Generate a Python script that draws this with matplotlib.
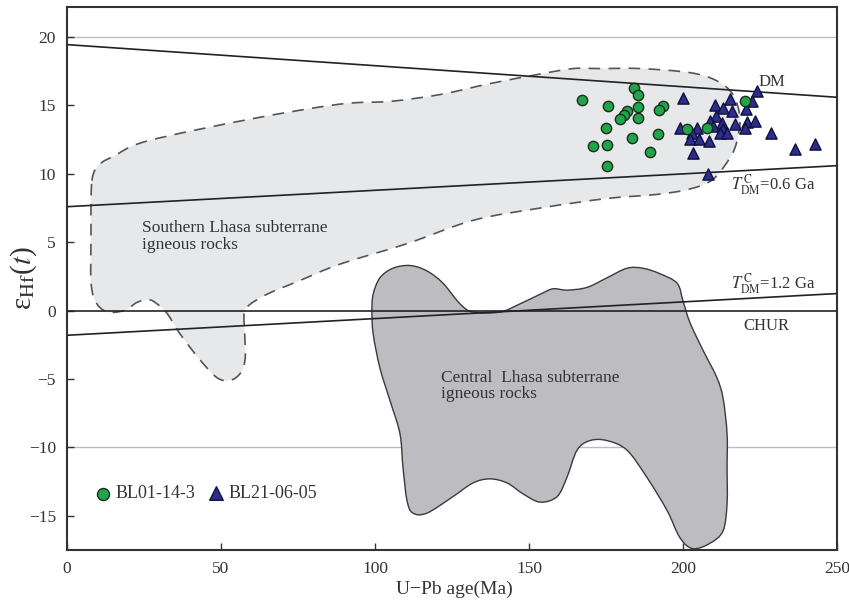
import numpy as np
import matplotlib
matplotlib.use("Agg")
import matplotlib.pyplot as plt
from matplotlib.path import Path
from matplotlib.patches import PathPatch

plt.rcParams['font.family'] = ['Liberation Serif', 'DejaVu Serif']
plt.rcParams['mathtext.fontset'] = 'stix'

# ---------------- data ----------------
green_age = [167.1, 175.5, 184.1, 185.5, 185.5, 181.7, 180.9, 179.5, 185.5, 193.6,
             192.2, 174.9, 183.3, 191.8, 170.9, 175.2, 189.3, 175.4, 201.2, 207.7, 220.1]
green_ehf = [15.38, 14.96, 16.30, 15.74, 14.91, 14.60, 14.28, 13.99, 14.07, 14.96,
             14.67, 13.38, 12.65, 12.90, 12.04, 12.12, 11.61, 10.58, 13.26, 13.38, 15.33]

tri_age = [200.0, 224.0, 215.3, 222.4, 210.4, 213.0, 215.9, 220.5, 210.7, 208.8,
           212.7, 216.9, 220.8, 223.4, 199.0, 204.5, 209.7, 213.0, 220.1, 202.9,
           212.0, 214.3, 202.3, 205.2, 208.4, 203.2, 208.1, 228.6, 236.4, 242.9]
tri_ehf = [15.55, 16.06, 15.47, 15.33, 15.04, 14.82, 14.60, 14.74, 14.23, 13.87,
           13.72, 13.65, 13.80, 13.87, 13.36, 13.36, 13.50, 13.28, 13.36, 12.99,
           12.99, 12.99, 12.55, 12.55, 12.41, 11.53, 10.00, 12.99, 11.82, 12.19]

# reference lines (age endpoints, eHf endpoints)
line_age = [0, 250]
dm_ehf = [19.45, 15.6]
t06_ehf = [7.6, 10.6]
t12_ehf = [-1.8, 1.25]
chur_ehf = [0, 0]

# field outlines
south_age = [8.1, 10.7, 15.3, 26.0, 59.4, 88.6, 104.9, 121.1, 137.3, 153.6, 164.3, 173.1,
             186.0, 202.3, 211.0, 216.2, 218.5, 217.5, 215.3, 209.7, 202.3, 191.6, 175.3,
             153.6, 131.8, 110.4, 88.6, 75.6, 64.9, 59.1, 57.5, 57.8, 57.8, 56.2, 52.9,
             48.7, 43.2, 36.7, 32.5, 29.2, 26.6, 22.7, 18.5, 12.0, 8.1, 7.8]
south_ehf = [9.5, 10.7, 11.3, 12.4, 14.0, 15.1, 15.3, 15.8, 16.6, 17.3, 17.7, 17.7,
             17.7, 17.4, 16.8, 15.8, 14.1, 12.4, 11.2, 9.6, 8.9, 8.5, 8.2,
             7.5, 6.6, 4.9, 3.4, 2.2, 1.2, 0.4, -0.2, -2.2, -3.6, -4.6, -5.1,
             -4.9, -3.6, -1.7, -0.2, 0.5, 0.8, 0.6, 0.0, 0.0, 1.5, 5.5]

central_age = [99.4, 101.6, 105.8, 111.4, 116.9, 122.1, 127.6, 131.8, 140.6, 147.1, 153.6,
               157.8, 162.3, 168.8, 175.3, 181.8, 187.0, 192.5, 198.1, 200.0, 202.3, 206.5,
               211.0, 213.0, 214.3, 214.3, 214.3, 213.0, 208.8, 203.2, 199.0, 194.8, 188.3,
               181.8, 175.3, 169.8, 165.6, 162.3, 159.1, 153.6, 148.1, 142.9, 137.3, 131.8,
               125.3, 116.9, 112.3, 110.4, 109.1, 108.1, 104.9, 101.6, 99.4, 99.0]
central_ehf = [1.2, 2.4, 3.1, 3.3, 2.9, 2.0, 0.5, -0.1, -0.1, 0.5, 1.2,
               1.6, 1.5, 1.7, 2.4, 3.1, 3.1, 2.7, 2.0, 0.7, -0.9, -2.9,
               -4.9, -6.4, -9.0, -11.5, -14.1, -16.1, -17.0, -17.4, -16.6, -14.6, -12.2,
               -10.2, -9.5, -9.5, -10.2, -12.2, -13.6, -14.0, -13.4, -12.6, -12.3, -12.6,
               -13.6, -14.8, -14.8, -13.9, -11.5, -9.0, -6.6, -4.2, -1.7, 0.0]

x_ticks = [0, 50, 100, 150, 200, 250]
y_ticks = [-15, -10, -5, 0, 5, 10, 15, 20]


def smooth_closed_path(xs, ys, tension=1.0):
    """Closed Catmull-Rom curve through the vertices, as cubic Bezier segments."""
    p = np.column_stack([xs, ys]).astype(float)
    n = len(p)
    verts = [p[0]]
    codes = [Path.MOVETO]
    for i in range(n):
        p0, p1, p2, p3 = p[i - 1], p[i], p[(i + 1) % n], p[(i + 2) % n]
        c1 = p1 + (p2 - p0) / 6.0 * tension
        c2 = p2 - (p3 - p1) / 6.0 * tension
        verts += [c1, c2, p2]
        codes += [Path.CURVE4] * 3
    return Path(np.array(verts), codes)


fig = plt.figure(figsize=(8.49, 6.05), dpi=100)
ax = fig.add_axes([0.0789, 0.0909, 0.907, 0.8975])
ax.set_xlim(0, 250)
ax.set_ylim(-17.5, 22.2)

# light grid lines
for yv in [20, -10]:
    ax.axhline(yv, color='#bdbdbd', lw=1.0, zorder=1)

# fields (data coords -> display via transData)
south_path = smooth_closed_path(south_age, south_ehf)
ax.add_patch(PathPatch(south_path, facecolor='#e7e8ea', edgecolor='none', zorder=2))
ax.add_patch(PathPatch(south_path, facecolor='none', edgecolor='#555555', lw=1.2,
                       linestyle=(0, (7, 5)), zorder=3))
central_path = smooth_closed_path(central_age, central_ehf)
ax.add_patch(PathPatch(central_path, facecolor='#bdbdc1', edgecolor='#3a3a3a', lw=1.0, zorder=2.5))

# reference lines
for ys in [dm_ehf, t06_ehf, t12_ehf, chur_ehf]:
    ax.plot(line_age, ys, color='#222222', lw=1.2, zorder=4)

# samples
ax.scatter(green_age, green_ehf, s=55, marker='o', facecolor='#1fa64a', edgecolor='#1c2a1c',
           linewidths=1.0, zorder=6)
ax.scatter(tri_age, tri_ehf, s=65, marker='^', facecolor='#2d2d8f', edgecolor='#10103a',
           linewidths=1.0, zorder=5)

# legend (manual)
ax.scatter([11.7], [-13.4], s=75, marker='o', facecolor='#1fa64a', edgecolor='#1c2a1c',
           linewidths=1.0, zorder=6)
ax.text(15.8, -13.4, 'BL01-14-3', fontsize=13, color='#333333', va='center', ha='left')
ax.scatter([48.5], [-13.35], s=95, marker='^', facecolor='#2d2d8f', edgecolor='#10103a',
           linewidths=1.0, zorder=6)
ax.text(52.5, -13.4, 'BL21-06-05', fontsize=13, color='#333333', va='center', ha='left')

# annotations
txt_kw = dict(color='#333333', zorder=7)
ax.text(229.0, 16.75, 'DM', fontsize=12, ha='center', va='center', **txt_kw)
ax.text(215.5, 9.25, r'$\mathit{T}_{\mathrm{DM}}^{\,\mathrm{C}}$=0.6 Ga', fontsize=12,
        ha='left', va='center', **txt_kw)
ax.text(215.5, 2.0, r'$\mathit{T}_{\mathrm{DM}}^{\,\mathrm{C}}$=1.2 Ga', fontsize=12,
        ha='left', va='center', **txt_kw)
ax.text(219.5, -1.1, 'CHUR', fontsize=12, ha='left', va='center', **txt_kw)
ax.text(24.5, 5.4, 'Southern Lhasa subterrane\nigneous rocks', fontsize=12.5,
        ha='left', va='center', linespacing=1.05, **txt_kw)
ax.text(121.5, -5.5, 'Central  Lhasa subterrane\nigneous rocks', fontsize=12.5,
        ha='left', va='center', linespacing=1.05, **txt_kw)

# axes styling
ax.set_xticks(x_ticks)
ax.set_yticks(y_ticks)
ax.set_xticklabels([str(v) for v in x_ticks])
ax.set_yticklabels([str(v).replace('-', '\u2212') for v in y_ticks])
ax.tick_params(direction='in', length=5, width=1.0, color='#333333', labelsize=12.5,
               labelcolor='#333333', pad=8)
for sp in ax.spines.values():
    sp.set_color('#333333')
    sp.set_linewidth(1.5)

ax.set_xlabel('U\u2212Pb age(Ma)', fontsize=14, color='#333333')
ax.xaxis.set_label_coords(0.503, -0.057)
ax.set_ylabel('\u03b5$_{\\mathrm{Hf}}$($\\mathit{t}$)', fontsize=21, color='#333333')
ax.yaxis.set_label_coords(-0.036, 0.5)

fig.savefig('out.png', dpi=100)
